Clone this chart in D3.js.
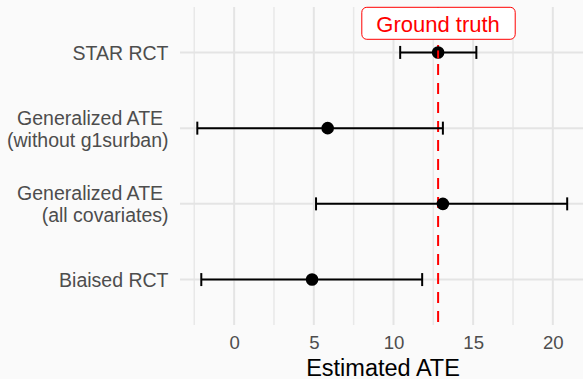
<!DOCTYPE html>
<html>
<head>
<meta charset="utf-8">
<script src="https://cdn.jsdelivr.net/npm/d3@7"></script>
<style>
  body { margin: 0; background: #fafafa; }
  svg { display: block; font-family: "Liberation Sans", Arial, sans-serif; }
</style>
</head>
<body>
<div id="chart"></div>
<script>
// estimates, top to bottom
const methods = ['STAR RCT', 'Generalized ATE \n(without g1surban)', 'Generalized ATE \n(all covariates)', 'Biaised RCT'];
const estimate = [12.8, 5.87, 13.1, 4.89];
const lower = [10.42, -2.31, 5.14, -2.06];
const upper = [15.2, 13.1, 20.9, 11.8];
const groundTruth = 12.8;
const xTicks = [0, 5, 10, 15, 20];
const xMinor = [-2.5, 2.5, 7.5, 12.5, 17.5];

const width = 583, height = 379;
const panel = { left: 180, right: 586, top: 7, bottom: 325 };

const svg = d3.select('#chart').append('svg')
  .attr('width', width)
  .attr('height', height);

svg.append('rect')
  .attr('width', width)
  .attr('height', height)
  .attr('fill', '#fafafa');

const x = d3.scaleLinear()
  .domain([-3.396, 22.08])
  .range([panel.left, panel.right]);

const y = d3.scalePoint()
  .domain(methods)
  .range([panel.top, panel.bottom])
  .padding(0.6);

// grid
svg.append('g').selectAll('line.minor')
  .data(xMinor)
  .enter().append('line')
  .attr('x1', d => x(d)).attr('x2', d => x(d))
  .attr('y1', panel.top).attr('y2', panel.bottom)
  .attr('stroke', '#e8e8e8')
  .attr('stroke-width', 1.5);

svg.append('g').selectAll('line.major')
  .data(xTicks)
  .enter().append('line')
  .attr('x1', d => x(d)).attr('x2', d => x(d))
  .attr('y1', panel.top).attr('y2', panel.bottom)
  .attr('stroke', '#e4e4e4')
  .attr('stroke-width', 2);

svg.append('g').selectAll('line.hgrid')
  .data(methods)
  .enter().append('line')
  .attr('x1', panel.left).attr('x2', panel.right)
  .attr('y1', d => y(d)).attr('y2', d => y(d))
  .attr('stroke', '#e4e4e4')
  .attr('stroke-width', 2);

// x axis ticks
const xAxis = svg.append('g')
  .attr('transform', `translate(0, ${panel.bottom})`)
  .call(d3.axisBottom(x).tickValues(xTicks).tickSize(0));
xAxis.select('.domain').remove();
xAxis.selectAll('text')
  .attr('fill', '#4d4d4d')
  .attr('font-size', 18.6)
  .attr('dy', null)
  .attr('y', 23.5);

// y axis labels, two lines where needed
const yLab = svg.append('g');
methods.forEach((m) => {
  const lines = m.split('\n');
  const t = yLab.append('text')
    .attr('text-anchor', 'end')
    .attr('fill', '#4d4d4d')
    .attr('font-size', 19.5)
    .attr('x', 168.5)
    .style('white-space', 'pre');
  lines.forEach((l, i) => {
    t.append('tspan')
      .attr('x', 168.5)
      .attr('y', y(m) + 7.5 + (i - (lines.length - 1) / 2) * 22)
      .text(l);
  });
});

// axis title
svg.append('text')
  .attr('x', (panel.left + panel.right) / 2)
  .attr('y', 376)
  .attr('text-anchor', 'middle')
  .attr('fill', '#000')
  .attr('font-size', 23.5)
  .text('Estimated ATE');

// ground truth line
svg.append('line')
  .attr('x1', x(groundTruth)).attr('x2', x(groundTruth))
  .attr('y1', panel.top).attr('y2', 323)
  .attr('stroke', '#ff0000')
  .attr('stroke-width', 2)
  .attr('stroke-dasharray', '11,8');

// error bars
const rows = methods.map((m, i) => ({ m: m, est: estimate[i], lo: lower[i], hi: upper[i] }));
const bars = svg.append('g').selectAll('g.bar')
  .data(rows)
  .enter().append('g');

bars.append('line')
  .attr('x1', d => x(d.lo)).attr('x2', d => x(d.hi))
  .attr('y1', d => y(d.m)).attr('y2', d => y(d.m))
  .attr('stroke', '#000')
  .attr('stroke-width', 2);

bars.append('line')
  .attr('x1', d => x(d.lo)).attr('x2', d => x(d.lo))
  .attr('y1', d => y(d.m) - 6.5).attr('y2', d => y(d.m) + 6.5)
  .attr('stroke', '#000')
  .attr('stroke-width', 2);

bars.append('line')
  .attr('x1', d => x(d.hi)).attr('x2', d => x(d.hi))
  .attr('y1', d => y(d.m) - 6.5).attr('y2', d => y(d.m) + 6.5)
  .attr('stroke', '#000')
  .attr('stroke-width', 2);

bars.append('circle')
  .attr('cx', d => x(d.est))
  .attr('cy', d => y(d.m))
  .attr('r', 6.3)
  .attr('fill', '#000');

// the red line shows through the first point
svg.append('line')
  .attr('x1', x(groundTruth)).attr('x2', x(groundTruth))
  .attr('y1', y(methods[0]) - 2).attr('y2', y(methods[0]) + 6)
  .attr('stroke', '#ff0000')
  .attr('stroke-width', 2);

// label
const label = svg.append('g');
label.append('rect')
  .attr('x', x(groundTruth) - 76.3)
  .attr('y', 7.3)
  .attr('width', 153.4)
  .attr('height', 32)
  .attr('rx', 5)
  .attr('fill', '#fff')
  .attr('stroke', '#ff0000')
  .attr('stroke-width', 1);
label.append('text')
  .attr('x', x(groundTruth))
  .attr('y', 31.5)
  .attr('text-anchor', 'middle')
  .attr('fill', '#ff0000')
  .attr('font-size', 22)
  .text('Ground truth');
</script>
</body>
</html>
